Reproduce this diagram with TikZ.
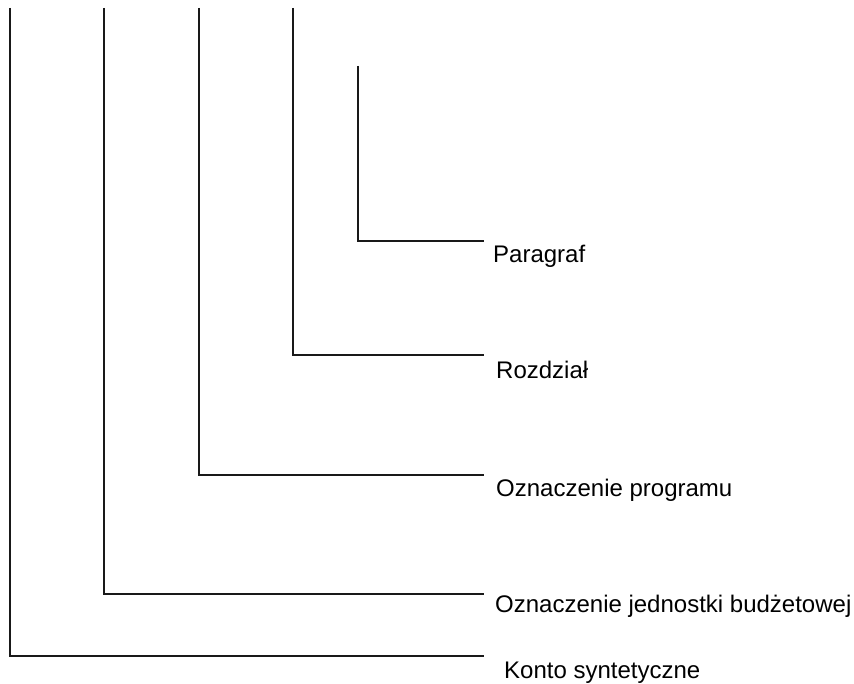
\documentclass[tikz,border=0pt]{standalone}
\usepackage{fontspec}
\setmainfont{Liberation Sans}
\begin{document}
\begin{tikzpicture}[x=1pt,y=-1pt,
  lbl/.style={anchor=base west,inner sep=0pt,font=\fontsize{24}{29}\selectfont},
  tree/.style={line width=1.7pt,draw=black!90}]
\useasboundingbox (0,0) rectangle (854,684);
% tops
\coordinate (t1) at (10,8);
\coordinate (t2) at (104,8);
\coordinate (t3) at (199,8);
\coordinate (t4) at (293,8);
\coordinate (t5) at (358,66);
% line ends
\coordinate (e1) at (484,656);
\coordinate (e2) at (484,594);
\coordinate (e3) at (484,475);
\coordinate (e4) at (484,355);
\coordinate (e5) at (484,241);
% labels
\node[lbl] (l5) at (493,263) {Paragraf};
\node[lbl] (l4) at (496,379) {Rozdział};
\node[lbl] (l3) at (496,496) {Oznaczenie programu};
\node[lbl] (l2) at (495,612) {Oznaczenie jednostki budżetowej};
\node[lbl] (l1) at (504,678) {Konto syntetyczne};
% tree lines
\draw[tree] (t1) |- (e1);
\draw[tree] (t2) |- (e2);
\draw[tree] (t3) |- (e3);
\draw[tree] (t4) |- (e4);
\draw[tree,line width=1.3pt] (t5) |- (e5);
\end{tikzpicture}
\end{document}
